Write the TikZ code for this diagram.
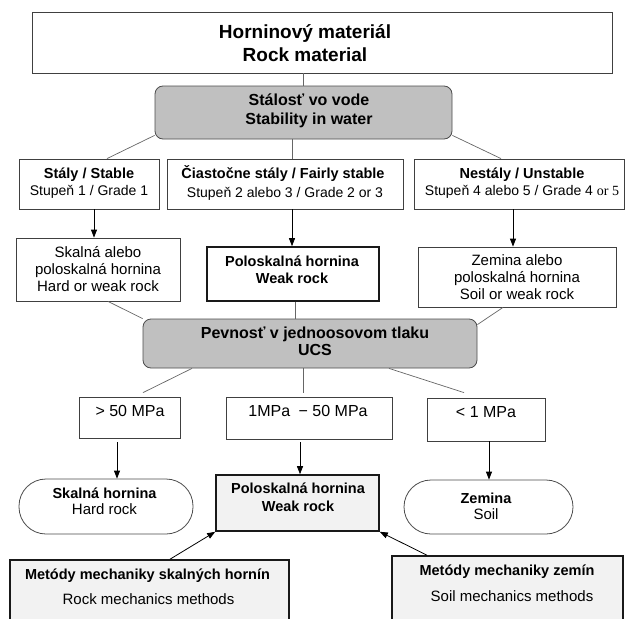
\documentclass[tikz,border=0pt]{standalone}
\usepackage{fontspec}
\setmainfont{Liberation Sans}
\newfontfamily\serifalt{Liberation Serif}
\usetikzlibrary{arrows.meta,calc}
\definecolor{gfill}{HTML}{C0C0C0}
\definecolor{lfill}{HTML}{F2F2F2}
\newcommand\fTitle{\fontsize{19}{23}\selectfont\bfseries}
\newcommand\fHead{\fontsize{16}{19}\selectfont\bfseries}
\newcommand\fBold{\fontsize{14.5}{17}\selectfont\bfseries}
\newcommand\fSub{\fontsize{14}{17}\selectfont}
\newcommand\fReg{\fontsize{15}{17}\selectfont}
\newcommand\fMPa{\fontsize{16}{19}\selectfont}
\tikzset{
  box/.style={draw=black!75, line width=0.8pt, fill=white, inner sep=0pt},
  graybox/.style={draw=black!70, line width=0.8pt, fill=gfill, rounded corners=8pt, inner sep=0pt},
  thickbox/.style={draw=black!90, line width=1.6pt, inner sep=0pt},
  stadium/.style={draw=black!70, line width=0.8pt, fill=white, rounded corners=27pt, inner sep=0pt},
  conn/.style={draw=black!60, line width=0.7pt},
  arr/.style={draw=black, line width=0.8pt, -{Triangle[length=8pt,width=6pt]}},
  txt/.style={inner sep=0pt, anchor=base},
}
\begin{document}
\begin{tikzpicture}[x=1pt,y=-1pt]
\useasboundingbox (0,0) rectangle (626,618);
% boxes
\node[box, minimum width=580pt, minimum height=61pt] (top) at (322,42.5) {};
\node[graybox, minimum width=297pt, minimum height=53pt] (stab) at (303.5,112.5) {};
\node[box, minimum width=140pt, minimum height=50pt] (stb) at (89,184) {};
\node[box, minimum width=236pt, minimum height=50pt] (fst) at (285,184) {};
\node[box, minimum width=210pt, minimum height=50pt] (uns) at (519,184) {};
\node[box, minimum width=164pt, minimum height=63pt] (skb) at (98,269.5) {};
\node[thickbox, fill=white, minimum width=172pt, minimum height=54pt] (wrb) at (293,274) {};
\node[box, minimum width=198pt, minimum height=60pt] (zmb) at (517,277) {};
\node[graybox, minimum width=334pt, minimum height=49pt] (ucs) at (310,343.5) {};
\node[box, minimum width=101pt, minimum height=41pt] (g50) at (129.5,417.5) {};
\node[box, minimum width=166pt, minimum height=42pt] (mid) at (309,418) {};
\node[box, minimum width=118pt, minimum height=43pt] (l1) at (486,419.5) {};
\node[stadium, minimum width=174pt, minimum height=55pt] (shs) at (106,506.5) {};
\node[thickbox, fill=lfill, minimum width=163pt, minimum height=56pt] (pbb) at (297.5,503) {};
\node[stadium, minimum width=169pt, minimum height=54pt] (zss) at (488.5,507) {};
\node[thickbox, fill=lfill, minimum width=279pt, minimum height=90pt] (rmb) at (149.5,605) {};
\node[thickbox, fill=lfill, minimum width=231pt, minimum height=94pt] (smb) at (507.5,603) {};
% texts
\node[txt, font=\fTitle] (topA) at (305,39) {Horninový materiál};
\node[txt, font=\fTitle] (topB) at (305,62) {Rock material};
\node[txt, font=\fHead] (stA) at (309,105) {Stálosť vo vode};
\node[txt, font=\fHead] (stB) at (309,124) {Stability in water};
\node[txt, font=\fBold] (slA) at (89,178) {Stály / Stable};
\node[txt, font=\fSub] (slB) at (89,195) {Stupeň 1 / Grade 1};
\node[txt, font=\fBold] (fsA) at (283,178) {Čiastočne stály / Fairly stable};
\node[txt, font=\fSub] (fsB) at (285,197) {Stupeň 2 alebo 3 / Grade 2 or 3};
\node[txt, font=\fBold] (unA) at (522,178) {Nestály / Unstable};
\node[txt, font=\fSub] (unB) at (522,195) {Stupeň 4 alebo 5 / Grade 4 {\serifalt or 5}};
\node[txt, font=\fReg] (skA) at (98,257) {Skalná alebo};
\node[txt, font=\fReg] (skB) at (98,274) {poloskalná hornina};
\node[txt, font=\fReg] (skC) at (98,291) {Hard or weak rock};
\node[txt, font=\fBold] (wrA) at (292,266) {Poloskalná hornina};
\node[txt, font=\fBold] (wrB) at (292,283) {Weak rock};
\node[txt, font=\fReg] (zmA) at (517,265) {Zemina alebo};
\node[txt, font=\fReg] (zmB) at (517,282) {poloskalná hornina};
\node[txt, font=\fReg] (zmC) at (517,299) {Soil or weak rock};
\node[txt, font=\fHead] (ucA) at (315,338) {Pevnosť v jednoosovom tlaku};
\node[txt, font=\fHead] (ucB) at (315,355) {UCS};
\node[txt, font=\fMPa] (m1) at (130,416) {> 50 MPa};
\node[txt, font=\fMPa] (m2) at (308,416) {1MPa\hspace{4pt} − 50 MPa};
\node[txt, font=\fMPa] (m3) at (486,417) {< 1 MPa};
\node[txt, font=\fBold] (shA) at (104.5,498) {Skalná hornina};
\node[txt, font=\fReg] (shB) at (104.5,514) {Hard rock};
\node[txt, font=\fBold] (pbA) at (298,493) {Poloskalná hornina};
\node[txt, font=\fBold] (pbB) at (298,511) {Weak rock};
\node[txt, font=\fBold] (zsA) at (486,503) {Zemina};
\node[txt, font=\fReg] (zsB) at (486,519) {Soil};
\node[txt, font=\fBold] (rmA) at (147.5,579) {Metódy mechaniky skalných hornín};
\node[txt, font=\fReg] (rmB) at (148.5,604) {Rock mechanics methods};
\node[txt, font=\fBold] (smA) at (507,575) {Metódy mechaniky zemín};
\node[txt, font=\fReg] (smB) at (512,601) {Soil mechanics methods};
% connectors
\draw[conn] (stab.north |- top.south) -- (stab.north);
\draw[conn] ($(stab.south west)+(0,-4)$) -- ($(stb.north)+(18,0)$);
\draw[conn] ($(stab.south)+(-11.5,0)$) coordinate (c1) -- (c1 |- fst.north);
\draw[conn] ($(stab.south east)+(0,-4)$) -- ($(uns.north)+(-18,0)$);
\draw[arr] ($(stb.south)+(5,0)$) coordinate (c2) -- (c2 |- skb.north);
\draw[arr] ($(fst.south)+(7,0)$) coordinate (c3) -- (c3 |- wrb.north);
\draw[arr] ($(uns.south)+(-6,0)$) coordinate (c4) -- (c4 |- zmb.north);
\draw[conn] ($(skb.south)+(10,0)$) -- (ucs.north west);
\draw[conn] ($(wrb.south)+(2,0)$) coordinate (c5) -- (c5 |- ucs.north);
\draw[conn] ($(zmb.south)+(-14,0)$) -- ($(ucs.north east)+(0,6)$);
\draw[conn] ($(ucs.south)+(-118,0)$) -- ($(g50.north)+(13.5,-4)$);
\draw[conn] ($(ucs.south)+(-7,0)$) coordinate (c6) -- ($(c6 |- mid.north)+(0,-4)$);
\draw[conn] ($(ucs.south)+(79,0)$) -- ($(l1.north)+(-22,-5)$);
\draw[arr] ($(g50.south)+(-12.5,4)$) coordinate (c7) -- (c7 |- shs.north);
\draw[arr] ($(mid.south)+(-9,3)$) coordinate (c8) -- (c8 |- pbb.north);
\draw[arr] ($(l1.south)+(3,0)$) coordinate (c9) -- (c9 |- zss.north);
\draw[arr] ($(rmb.north)+(20.5,0)$) -- (pbb.south west);
\draw[arr] ($(smb.north)+(-80.5,0)$) -- (pbb.south east);
\end{tikzpicture}
\end{document}
